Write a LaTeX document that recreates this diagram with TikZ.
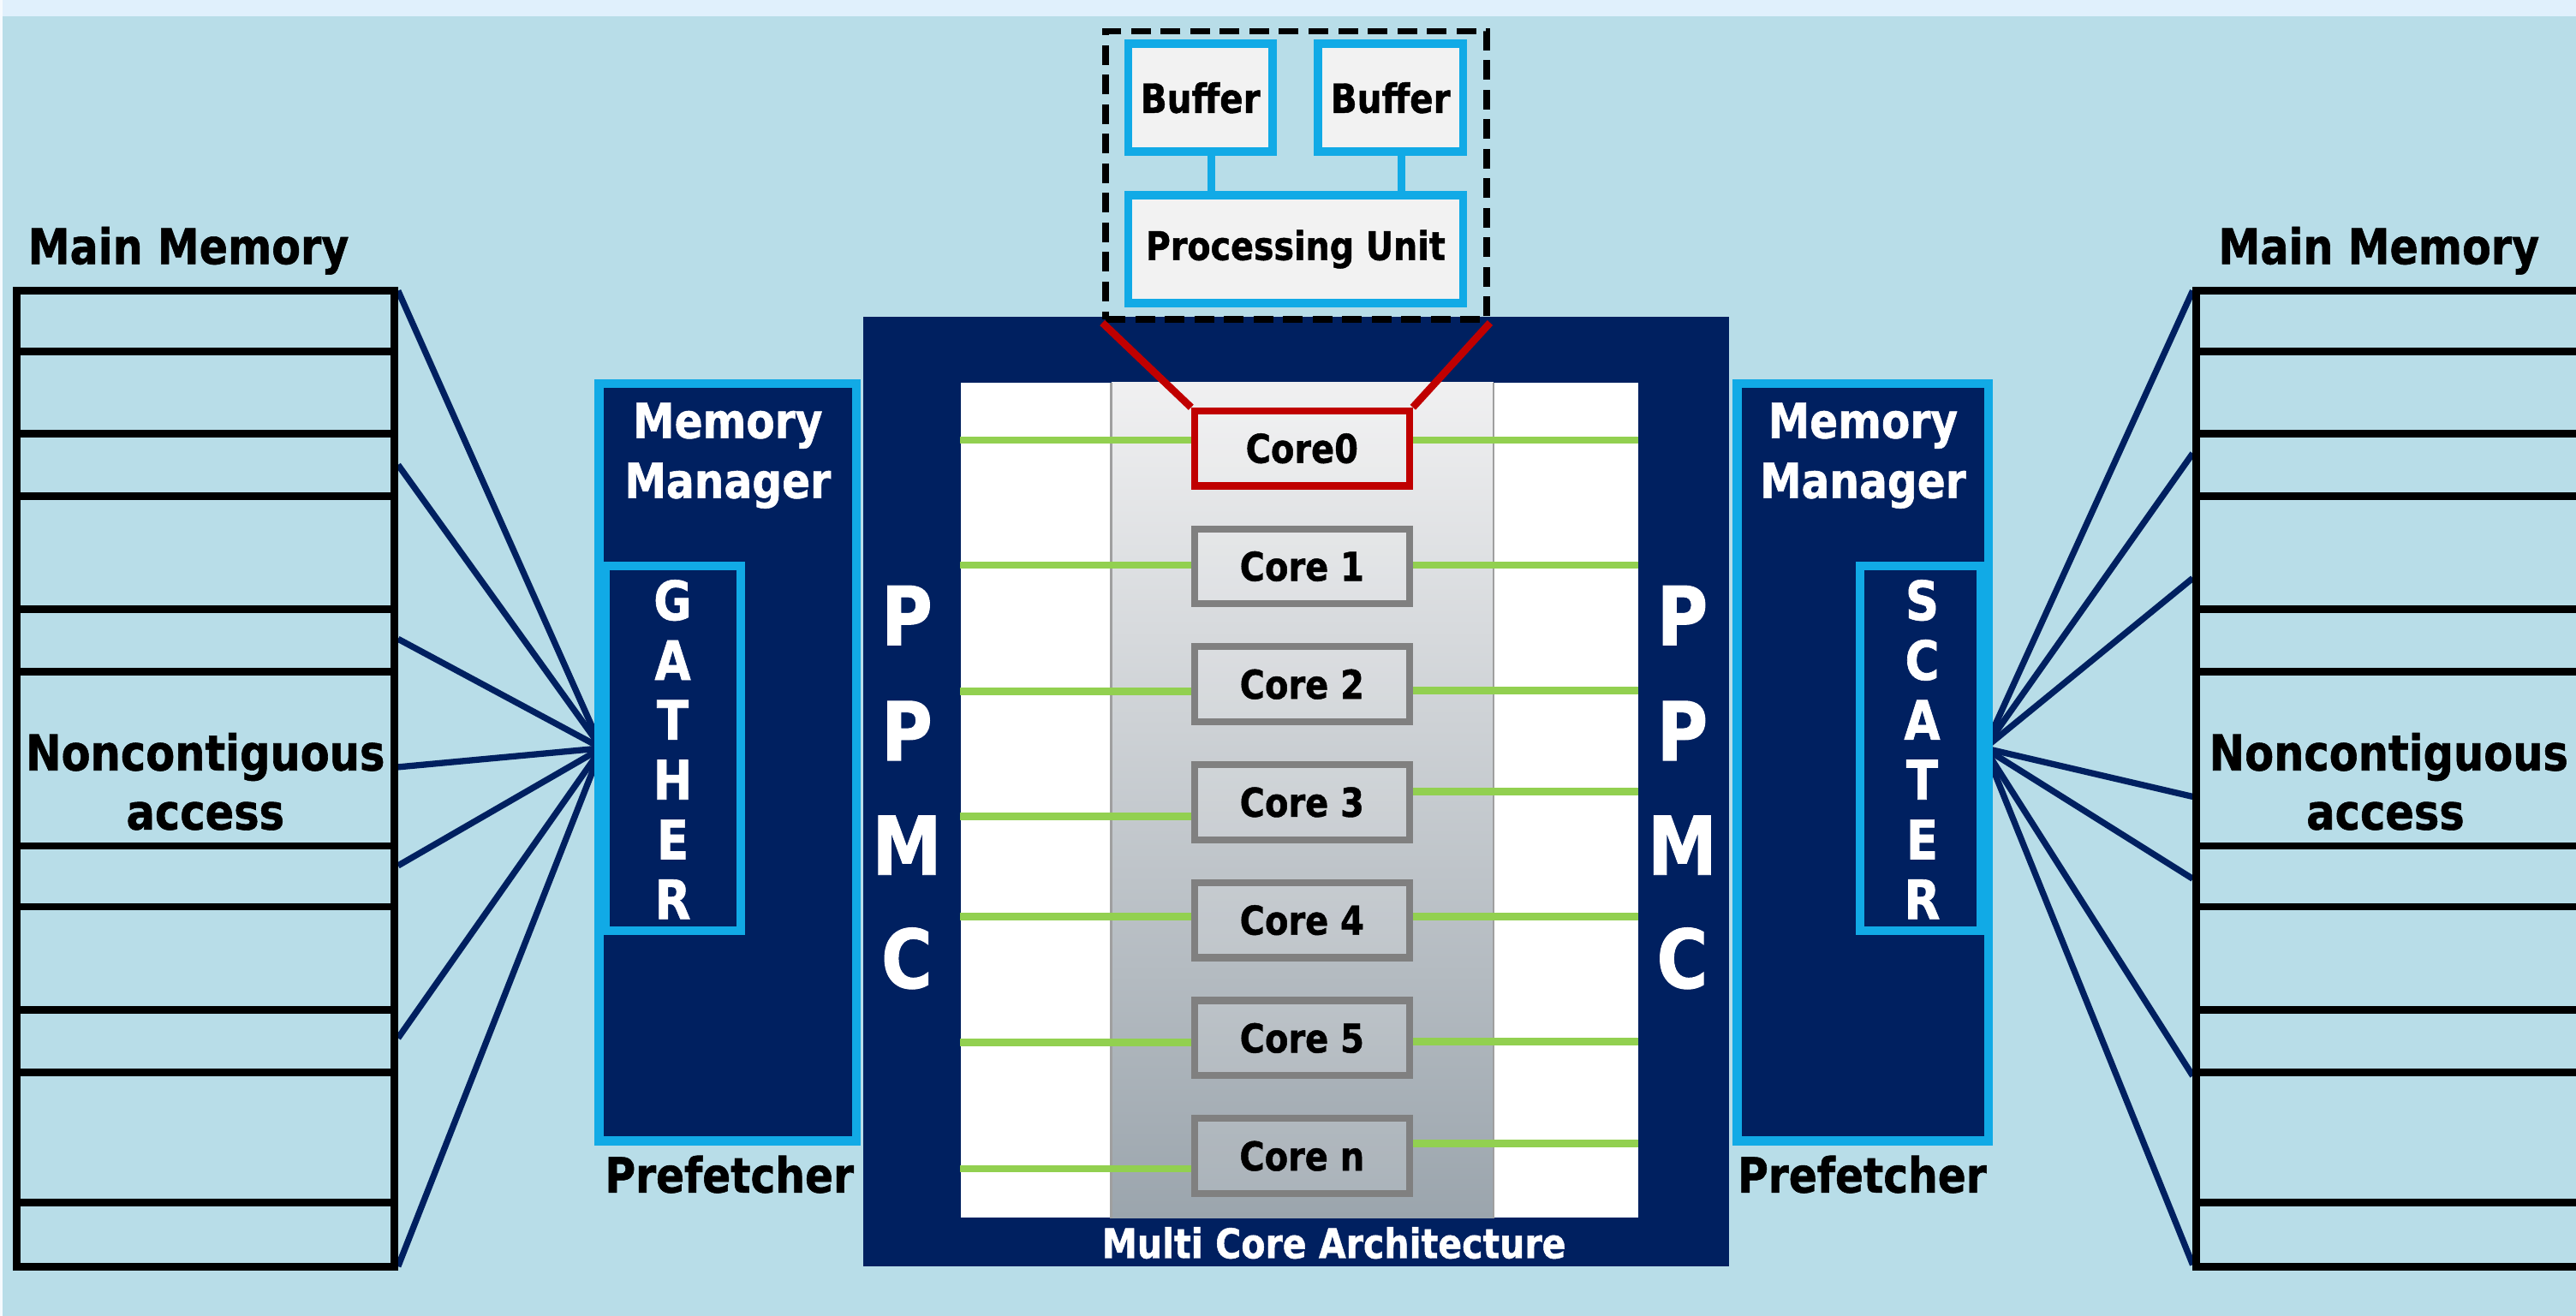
\documentclass[tikz,border=0pt]{standalone}
\usepackage{fontspec}
\setmainfont{DejaVu Sans}[FakeStretch=0.86, BoldFeatures={FakeBold=1.0}]
\usetikzlibrary{backgrounds}

\definecolor{bg}{RGB}{184,221,232}
\definecolor{band}{RGB}{224,240,252}
\definecolor{navy}{RGB}{0,32,96}
\definecolor{skyb}{RGB}{17,170,230}
\definecolor{leaf}{RGB}{146,208,80}
\definecolor{darkred}{RGB}{192,0,0}
\definecolor{coregray}{RGB}{128,128,128}
\definecolor{boxfill}{RGB}{242,242,242}
\definecolor{coltop}{RGB}{240,240,241}
\definecolor{colbot}{RGB}{155,165,173}

\begin{document}
\begin{tikzpicture}[x=1pt,y=-1pt,
  txt/.style={inner sep=0pt, font=\bfseries\fontsize{#1}{#1}\selectfont},
  memline/.style={line width=4.6pt, black},
  fan/.style={line width=3.8pt, navy},
  mmbox/.style={draw=skyb, fill=navy, line width=5.5pt, inner sep=0pt},
  corebox/.style={draw=coregray, line width=4.3pt, fill=white, fill opacity=0.14,
    text opacity=1, minimum width=130.7pt, minimum height=45.7pt, inner sep=0pt,
    font=\bfseries\fontsize{24.2}{24}\selectfont},
  wire/.style={leaf, line width=4.5pt},
  unitbox/.style={draw=skyb, fill=boxfill, line width=5pt, inner sep=0pt},
]
\useasboundingbox (0,0) rectangle (1568,801);
\clip (0,0) rectangle (1568,801);

% ---------- main memory (left and right) ----------
\node[draw, line width=4.6pt, minimum width=230pt, minimum height=594pt, inner sep=0pt] (memL) at (125,474) {};
\node[draw, line width=4.6pt, minimum width=300pt, minimum height=594pt, inner sep=0pt] (memR) at (1487,474) {};
\foreach \y in {214,264,302,371,409,515,552,615,653,732} {
  \draw[memline] (memL.west |- 0,\y) -- (memL.east |- 0,\y);
  \draw[memline] (memR.west |- 0,\y) -- (memR.east |- 0,\y);
}
\node[txt=29.8, anchor=base] (mmtL) at (114.7,160.7) {Main Memory};
\node[txt=29.8, anchor=base] (mmtR) at (1448,160.7) {Main Memory};
\node[txt=30, anchor=base] (ncL) at (125,469) {Noncontiguous};
\node[txt=30, anchor=base] (acL) at (125,505) {access};
\node[txt=30, anchor=base] (ncR) at (1454,469) {Noncontiguous};
\node[txt=30, anchor=base] (acR) at (1452,505) {access};

% ---------- memory managers with gather / scatter units ----------
\node[mmbox, minimum width=156.7pt, minimum height=460.9pt] (mmL) at (442.95,464.05) {};
\node[mmbox, minimum width=153.2pt, minimum height=460.9pt] (mmR) at (1133.9,464.05) {};
\node[mmbox, line width=5pt, minimum width=82.3pt, minimum height=222pt] (gather) at (409.85,455.5) {};
\node[mmbox, line width=5pt, minimum width=73.4pt, minimum height=222pt] (scater) at (1168.8,455.5) {};

\node[txt=29.5, white, anchor=base] (memoL) at (443,266.7) {Memory};
\node[txt=29.5, white, anchor=base] (mngrL) at (443,303.2) {Manager};
\node[txt=29.5, white, anchor=base] (memoR) at (1134,266.7) {Memory};
\node[txt=29.5, white, anchor=base] (mngrR) at (1134,303.2) {Manager};
\node[txt=29.5, anchor=base] (pfL) at (444,726) {Prefetcher};
\node[txt=29.5, anchor=base] (pfR) at (1133.5,726) {Prefetcher};

\foreach \ch/\yb [count=\i] in {G/377.5, A/413.9, T/450.3, H/486.7, E/523.1, R/559.5}
  \node[txt=33, white, anchor=base] (ga\i) at (409.5,\yb) {\ch};
\foreach \ch/\yb [count=\i] in {S/377.5, C/413.9, A/450.3, T/486.7, E/523.1, R/559.5}
  \node[txt=33, white, anchor=base] (sc\i) at (1170,\yb) {\ch};

% ---------- PPMC multi core block ----------
\node[fill=navy, minimum width=527.1pt, minimum height=577.7pt, inner sep=0pt] (ppmc) at (789.05,481.85) {};
\node[fill=white, minimum width=412.4pt, minimum height=508.4pt, inner sep=0pt] (panel) at (791,487.2) {};
\node[top color=coltop, bottom color=colbot, minimum width=232.5pt, minimum height=508.4pt, inner sep=0pt] (column) at (792.75,487.2) {};
\draw[gray!75, line width=1.2pt] (column.north west) -- (column.south west);
\draw[gray!75, line width=1.2pt] (column.north east) -- (column.south east);

\foreach \ch/\yb [count=\i] in {P/392.7, P/462.9, M/532.6, C/601.5} {
  \node[txt=49.5, white, anchor=base] (pl\i) at (552,\yb) {\ch};
  \node[txt=49.5, white, anchor=base] (pr\i) at (1024,\yb) {\ch};
}
\node[txt=24.9, white, anchor=base] (mca) at (812,766) {Multi Core Architecture};

% cores
\node[corebox, draw=darkred] (core0) at (792.5,273) {Core0};
\foreach \n/\lab/\yc in {core1/Core 1/344.8, core2/Core 2/416.6, core3/Core 3/488.4,
                          core4/Core 4/560.2, core5/Core 5/632, coren/Core n/703.8}
  \node[corebox] (\n) at (792.5,\yc) {\lab};

\foreach \n/\yl/\yr in {core0/268/268, core1/344/344, core2/421/420.5, core3/497/482,
                        core4/558/558, core5/634.5/634, coren/711.5/696} {
  \draw[wire] (\n.west |- 0,\yl) -- (panel.west |- 0,\yl);
  \draw[wire] (\n.east |- 0,\yr) -- (panel.east |- 0,\yr);
}

% ---------- core detail ----------
\node[draw=black, line width=4pt, dash pattern=on 12pt off 6pt, minimum width=232pt,
      minimum height=175.5pt, inner sep=0pt] (detail) at (789,106.75) {};
\node[unitbox, minimum width=88pt, minimum height=65.7pt, font=\bfseries\fontsize{24.5}{24}\selectfont] (buf1) at (730.7,59.55) {Buffer};
\node[unitbox, minimum width=88.2pt, minimum height=65.7pt, font=\bfseries\fontsize{24.5}{24}\selectfont] (buf2) at (846.4,59.55) {Buffer};
\node[unitbox, minimum width=203.8pt, minimum height=65.7pt, font=\bfseries\fontsize{24}{24}\selectfont] (pu) at (788.6,151.75) {Processing Unit};
\draw[skyb, line width=4.5pt] ([xshift=6.6pt]buf1.south) -- ([xshift=6.6pt]buf1.south |- pu.north);
\draw[skyb, line width=4.5pt] ([xshift=6.6pt]buf2.south) -- ([xshift=6.6pt]buf2.south |- pu.north);

\draw[darkred, line width=4.5pt] (detail.south west) -- (core0.north west);
\draw[darkred, line width=4.5pt] (detail.south east) -- (core0.north east);

% ---------- backdrop and access fans ----------
\begin{pgfonlayer}{background}
  \fill[bg] (0,0) rectangle (1568,801);
  \fill[band] (0,0) rectangle (1568,10);
  \fill[white!70!band] (0,0) rectangle (1.4,801);
  \foreach \y in {177,283,389,467,527,632,771}
    \draw[fan] (memL.east |- 0,\y) -- (gather.west);
  \foreach \y in {177,276,352,485,535,655,770}
    \draw[fan] (memR.west |- 0,\y) -- (scater.east);
\end{pgfonlayer}
\end{tikzpicture}
\end{document}
